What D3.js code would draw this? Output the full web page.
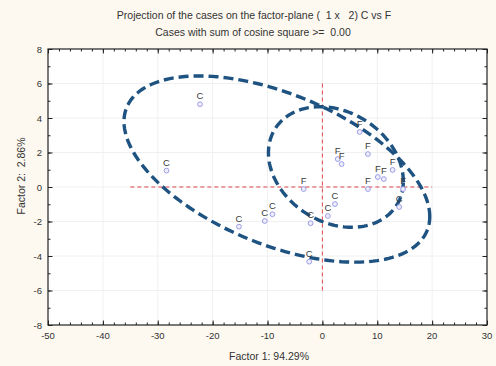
<!DOCTYPE html>
<html>
<head>
<meta charset="utf-8">
<script src="https://cdn.jsdelivr.net/npm/d3@7"></script>
<style>
  html, body { margin: 0; padding: 0; background: #fdf9f0; }
  svg { display: block; font-family: "Liberation Sans", Arial, sans-serif; }
  svg text { white-space: pre; }
</style>
</head>
<body>
<svg id="chart" width="496" height="366"></svg>
<script>
// Case coordinates on factors 1 and 2
const labels = ["C","C","C","C","C","C","C","C","C","C",
                "F","F","F","F","F","F","F","F","F","F"];
const factor1 = [-22.3, -28.4, -15.2, -10.5, -9.1, -2.15, -2.4, 1.0, 2.3, 14.0,
                 6.8, 8.3, 2.8, 3.5, 10.1, 11.2, 12.8, 14.7, 8.3, -3.4];
const factor2 = [4.8, 0.95, -2.3, -1.97, -1.58, -2.1, -4.33, -1.68, -0.99, -1.16,
                 3.19, 1.91, 1.62, 1.33, 0.58, 0.46, 0.99, -0.12, -0.12, -0.12];

// Group ellipses: centre, semi-axes (data units), rotation (degrees, data space)
const ellipseCx = [-8.29, 2.46];
const ellipseCy = [1.04, 1.16];
const ellipseRx = [28.0, 12.32];
const ellipseRy = [4.62, 3.39];
const ellipseAngle = [-5.8, -4.14];

// Reference cross through the origin
const crossX = [-35, 20];
const crossY = [-6, 6];

const xTicks = [-50, -40, -30, -20, -10, 0, 10, 20, 30];
const yTicks = [-8, -6, -4, -2, 0, 2, 4, 6, 8];

const svg = d3.select("#chart");
const L = 48, R = 487, T = 49, B = 325;
const x = d3.scaleLinear().domain([-50, 30]).range([L, R]);
const y = d3.scaleLinear().domain([-8, 8]).range([B, T]);

// Titles
svg.append("text").attr("x", 254).attr("y", 19).attr("text-anchor", "middle")
  .attr("font-size", 10.5).attr("fill", "#333")
  .text("Projection of the cases on the factor-plane (  1 x   2) C vs F");
svg.append("text").attr("x", 253).attr("y", 36).attr("text-anchor", "middle")
  .attr("font-size", 10.5).attr("fill", "#333")
  .text("Cases with sum of cosine square >=  0.00");

// Plot area
svg.append("rect").attr("x", L).attr("y", T).attr("width", R - L).attr("height", B - T)
  .attr("fill", "#fff");

// Faint grid
const grid = svg.append("g").attr("stroke", "#f0f0f0").attr("stroke-width", 1);
xTicks.slice(1, -1).forEach(v => grid.append("line")
  .attr("x1", x(v)).attr("x2", x(v)).attr("y1", T).attr("y2", B));
yTicks.slice(1, -1).forEach(v => grid.append("line")
  .attr("x1", L).attr("x2", R).attr("y1", y(v)).attr("y2", y(v)));

// Axes: inward ticks on all four sides
const xMinor = d3.range(-50, 30.01, 2);
const yMinor = d3.range(-8, 8.01, 1);
const axisG = svg.append("g");
function addTicks(axis, pos, values, size) {
  axisG.append("g").attr("transform", pos)
    .call(axis.tickValues(values).tickSize(size).tickFormat(""))
    .call(g => g.select(".domain").remove());
}
addTicks(d3.axisTop(x), `translate(0,${B})`, xMinor, 2.5);
addTicks(d3.axisTop(x), `translate(0,${B})`, xTicks, 4.5);
addTicks(d3.axisBottom(x), `translate(0,${T})`, xMinor, 2.5);
addTicks(d3.axisBottom(x), `translate(0,${T})`, xTicks, 4.5);
addTicks(d3.axisRight(y), `translate(${L},0)`, yMinor, 2.5);
addTicks(d3.axisRight(y), `translate(${L},0)`, yTicks, 4.5);
addTicks(d3.axisLeft(y), `translate(${R},0)`, yMinor, 2.5);
addTicks(d3.axisLeft(y), `translate(${R},0)`, yTicks, 4.5);
axisG.selectAll("line").attr("stroke", "#222");

// Tick labels
svg.append("g").selectAll("text").data(xTicks).join("text")
  .attr("x", d => x(d)).attr("y", B + 14).attr("text-anchor", "middle")
  .attr("font-size", 9.5).attr("fill", "#333").text(d => d);
svg.append("g").selectAll("text").data(yTicks).join("text")
  .attr("x", L - 6).attr("y", d => y(d) + 3.5).attr("text-anchor", "end")
  .attr("font-size", 9.5).attr("fill", "#333").text(d => d);

// Axis titles
svg.append("text").attr("x", 269).attr("y", 360).attr("text-anchor", "middle")
  .attr("font-size", 10.5).attr("fill", "#333").text("Factor 1: 94.29%");
svg.append("text").attr("transform", "translate(25,176) rotate(-90)")
  .attr("text-anchor", "middle").attr("font-size", 10.5).attr("fill", "#333")
  .text("Factor 2:  2.86%");

// Frame
svg.append("rect").attr("x", L).attr("y", T).attr("width", R - L).attr("height", B - T)
  .attr("fill", "none").attr("stroke", "#222").attr("stroke-width", 1.2);

// Reference cross
svg.append("line").attr("x1", x(crossX[0])).attr("x2", x(crossX[1]))
  .attr("y1", y(0)).attr("y2", y(0))
  .attr("stroke", "#e0474c").attr("stroke-width", 1).attr("stroke-dasharray", "4,3");
svg.append("line").attr("x1", x(0)).attr("x2", x(0))
  .attr("y1", y(crossY[1])).attr("y2", y(crossY[0]))
  .attr("stroke", "#e0474c").attr("stroke-width", 1).attr("stroke-dasharray", "4,3");

// Ellipses
const line = d3.line().x(d => x(d[0])).y(d => y(d[1])).curve(d3.curveLinearClosed);
ellipseCx.forEach((cx, i) => {
  const a = ellipseAngle[i] * Math.PI / 180;
  const pts = d3.range(0, 2 * Math.PI, Math.PI / 90).map(t => {
    const u = ellipseRx[i] * Math.cos(t), v = ellipseRy[i] * Math.sin(t);
    return [cx + u * Math.cos(a) - v * Math.sin(a), ellipseCy[i] + u * Math.sin(a) + v * Math.cos(a)];
  });
  svg.append("path").attr("d", line(pts)).attr("fill", "none")
    .attr("stroke", "#1d5281").attr("stroke-width", 3.4)
    .attr("stroke-dasharray", "10,5");
});

// Cases
const cases = labels.map((l, i) => ({ label: l, f1: factor1[i], f2: factor2[i] }));
const pg = svg.append("g");
pg.selectAll("circle").data(cases).join("circle")
  .attr("cx", d => x(d.f1)).attr("cy", d => y(d.f2)).attr("r", 2.4)
  .attr("fill", "#eeeefc").attr("stroke", "#9c9ce6").attr("stroke-width", 1);
pg.selectAll("text").data(cases).join("text")
  .attr("x", d => x(d.f1)).attr("y", d => y(d.f2) - 5)
  .attr("text-anchor", "middle").attr("font-size", 9.5)
  .attr("fill", "#3a3a3a").text(d => d.label);
</script>
</body>
</html>
